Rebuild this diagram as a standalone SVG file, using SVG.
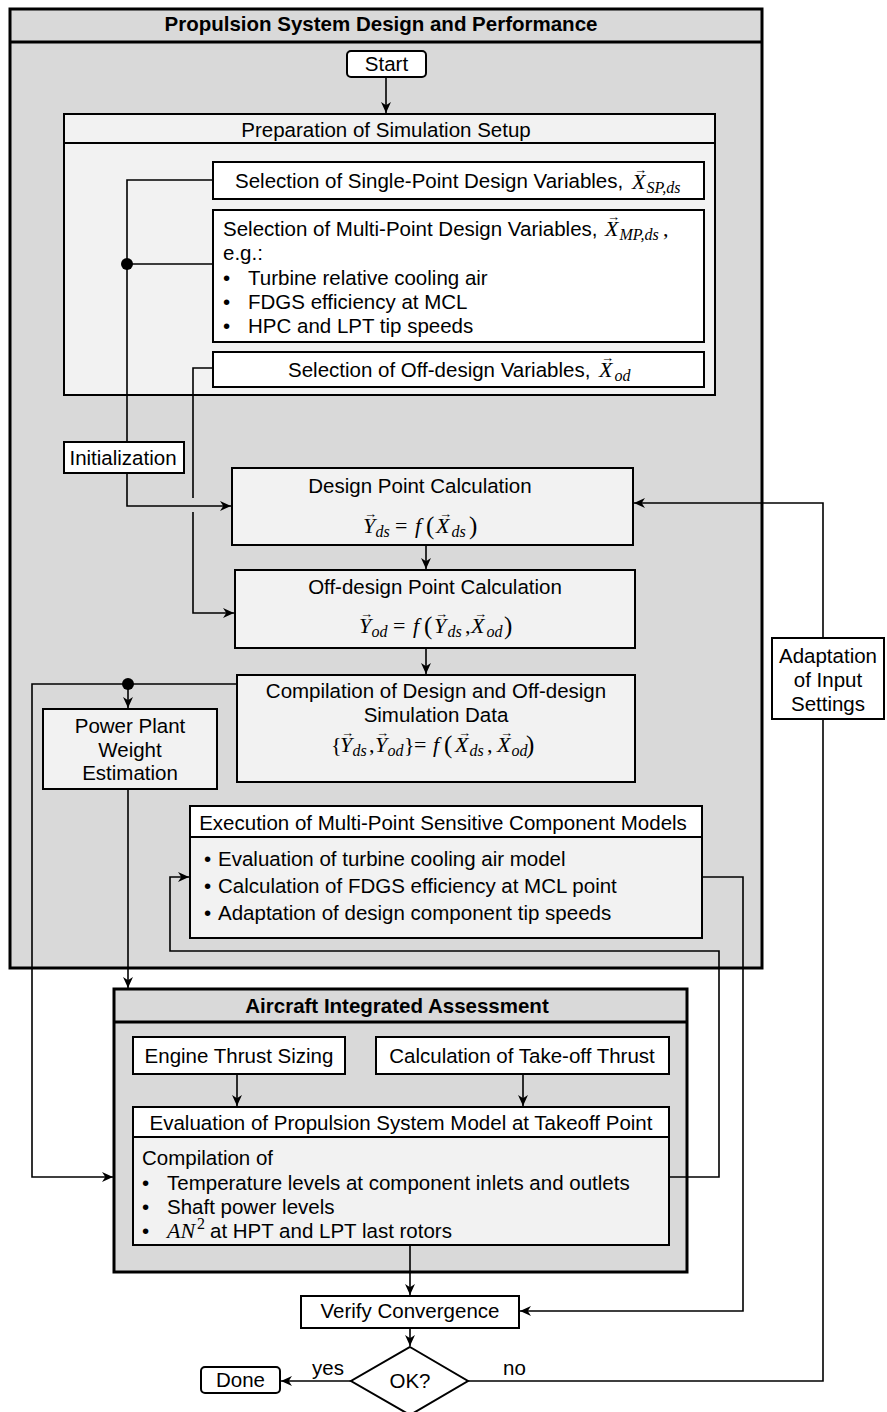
<svg xmlns="http://www.w3.org/2000/svg" width="887" height="1412" viewBox="0 0 887 1412">
  <defs>
    <style>
      .t { font-family: "Liberation Sans", Arial, sans-serif; font-size: 20.5px; fill: #000; }
      .c { text-anchor: middle; }
      .b { font-weight: bold; }
      .m { font-family: "Liberation Serif", "Times New Roman", serif; font-style: italic; font-size: 22px; fill: #000; }
      .s { font-size: 16px; }
      .up { font-style: normal; }
      .p { font-style: normal; font-size: 25px; }
      .v { font-family: "Liberation Serif", "DejaVu Serif", serif; font-style: normal; font-size: 13px; }
      .box { stroke: #000; stroke-width: 2; }
      .frame { stroke: #000; stroke-width: 3; }
      .w { fill: #fff; }
      .g { fill: #f2f2f2; }
      .d { fill: #d9d9d9; }
      .ln { fill: none; stroke: #000; stroke-width: 1.6; }
      .ar { marker-end: url(#ah); }
    </style>
    <marker id="ah" viewBox="0 0 10 10" refX="10" refY="5" markerWidth="11" markerHeight="11" markerUnits="userSpaceOnUse" orient="auto">
      <path d="M0,0.5 L10,5 L0,9.5 L3,5 Z" fill="#000"/>
    </marker>
  </defs>

  <rect width="887" height="1412" fill="#fff"/>

  <!-- Propulsion system container -->
  <g id="propulsion-system">
    <rect class="frame d" x="10" y="9" width="752" height="959"/>
    <line x1="10" y1="42" x2="762" y2="42" stroke="#000" stroke-width="3"/>
    <text class="t c b" x="381" y="31">Propulsion System Design and Performance</text>
  </g>

  <!-- Preparation container -->
  <g id="preparation">
    <rect class="box g" x="64" y="114" width="651" height="281"/>
    <line x1="64" y1="143" x2="715" y2="143" stroke="#000" stroke-width="2"/>
    <text class="t c" x="386" y="137">Preparation of Simulation Setup</text>
  </g>

  <!-- Aircraft assessment container -->
  <g id="aircraft-assessment">
    <rect class="frame d" x="114" y="989" width="573" height="283"/>
    <line x1="114" y1="1022" x2="687" y2="1022" stroke="#000" stroke-width="3"/>
    <text class="t c b" x="397" y="1013">Aircraft Integrated Assessment</text>
  </g>

  <!-- Connectors -->
  <g id="connectors">
    <line class="ln ar" x1="386" y1="77" x2="386" y2="113"/>
    <path class="ln" d="M213,180 H127 V442"/>
    <path class="ln" d="M213,264 H127"/>
    <circle cx="127" cy="264" r="6" fill="#000"/>
    <path class="ln ar" d="M127,473 V506 H231"/>
    <path class="ln" d="M213,368 H193 V498"/>
    <path class="ln ar" d="M193,512 V613 H234"/>
    <line class="ln ar" x1="426" y1="545" x2="426" y2="569"/>
    <line class="ln ar" x1="426" y1="648" x2="426" y2="674"/>
    <path class="ln ar" d="M237,684 H32 V1177 H113"/>
    <circle cx="128" cy="684" r="6" fill="#000"/>
    <line class="ln ar" x1="128" y1="684" x2="128" y2="708"/>
    <line class="ln ar" x1="128" y1="789" x2="128" y2="988"/>
    <path class="ln ar" d="M668,1177 H719 V951 H170 V877 H189"/>
    <path class="ln ar" d="M702,877 H743 V1311 H520"/>
    <path class="ln ar" d="M823,638 V503 H634"/>
    <line class="ln ar" x1="237" y1="1074" x2="237" y2="1106"/>
    <line class="ln ar" x1="523" y1="1074" x2="523" y2="1106"/>
    <line class="ln ar" x1="410" y1="1245" x2="410" y2="1295"/>
    <line class="ln ar" x1="410" y1="1328" x2="410" y2="1346"/>
    <path class="ln ar" d="M351,1381 H281"/>
    <path class="ln" d="M468,1381 H823 V719"/>
    <text class="t" x="312" y="1375">yes</text>
    <text class="t" x="503" y="1375">no</text>
  </g>

  <g id="start">
    <rect class="box w" x="347" y="51" width="79" height="26" rx="4"/>
    <text class="t c" x="386.5" y="71">Start</text>
  </g>

  <g id="single-point-variables">
    <rect class="box w" x="213" y="162" width="491" height="37"/>
    <text class="t" x="235" y="188">Selection of Single-Point Design Variables,</text>
    <text class="m" x="632" y="189">X<tspan class="s" x="646.5" y="193">SP,ds</tspan><tspan class="v" x="634" y="173.5">→</tspan></text>
  </g>

  <g id="multi-point-variables">
    <rect class="box w" x="213" y="210" width="491" height="132"/>
    <text class="t" x="223" y="236">Selection of Multi-Point Design Variables,</text>
    <text class="m" x="605" y="236">X<tspan class="s" x="619.5" y="240">MP,ds</tspan><tspan class="up" x="663" y="236">,</tspan><tspan class="v" x="607" y="220.5">→</tspan></text>
    <text class="t" x="223" y="260">e.g.:</text>
    <text class="t" x="223" y="285">•</text>
    <text class="t" x="248" y="285">Turbine relative cooling air</text>
    <text class="t" x="223" y="309">•</text>
    <text class="t" x="248" y="309">FDGS efficiency at MCL</text>
    <text class="t" x="223" y="333">•</text>
    <text class="t" x="248" y="333">HPC and LPT tip speeds</text>
  </g>

  <g id="off-design-variables">
    <rect class="box w" x="213" y="352" width="491" height="35"/>
    <text class="t" x="288" y="377">Selection of Off-design Variables,</text>
    <text class="m" x="599" y="377">X<tspan class="s" x="614.5" y="381">od</tspan><tspan class="v" x="601" y="361.5">→</tspan></text>
  </g>

  <g id="initialization">
    <rect class="box w" x="64" y="442" width="120" height="31"/>
    <text class="t c" x="123" y="465">Initialization</text>
  </g>

  <g id="design-point">
    <rect class="box g" x="232" y="468" width="401" height="77"/>
    <text class="t c" x="420" y="493">Design Point Calculation</text>
    <text class="m" x="363" y="533">Y<tspan class="s" x="375.5" y="537">ds</tspan><tspan class="up" x="395" y="533">=</tspan><tspan x="415" y="533">f</tspan><tspan class="p" x="426" y="534">(</tspan><tspan x="436" y="533">X</tspan><tspan class="s" x="451.5" y="537">ds</tspan><tspan class="p" x="469" y="534">)</tspan><tspan class="v" x="364" y="517.5">→</tspan><tspan class="v" x="439" y="517.5">→</tspan></text>
  </g>

  <g id="off-design-point">
    <rect class="box g" x="235" y="570" width="400" height="78"/>
    <text class="t c" x="435" y="594">Off-design Point Calculation</text>
    <text class="m" x="359" y="633">Y<tspan class="s" x="371.5" y="637">od</tspan><tspan class="up" x="393" y="633">=</tspan><tspan x="413" y="633">f</tspan><tspan class="p" x="424" y="634">(</tspan><tspan x="434" y="633">Y</tspan><tspan class="s" x="447.5" y="637">ds</tspan><tspan class="up" x="465" y="633">,</tspan><tspan x="471" y="633">X</tspan><tspan class="s" x="486.5" y="637">od</tspan><tspan class="p" x="504" y="634">)</tspan><tspan class="v" x="360" y="617.5">→</tspan><tspan class="v" x="435" y="617.5">→</tspan><tspan class="v" x="474" y="617.5">→</tspan></text>
  </g>

  <g id="compilation">
    <rect class="box g" x="237" y="675" width="398" height="107"/>
    <text class="t c" x="436" y="698">Compilation of Design and Off-design</text>
    <text class="t c" x="436" y="722">Simulation Data</text>
    <text class="m" x="331" y="752"><tspan class="up">{</tspan><tspan x="340" y="752">Y</tspan><tspan class="s" x="352.5" y="756">ds</tspan><tspan class="up" x="369" y="752">,</tspan><tspan x="375" y="752">Y</tspan><tspan class="s" x="387.5" y="756">od</tspan><tspan class="up" x="404" y="752">}</tspan><tspan class="up" x="414" y="752">=</tspan><tspan x="433" y="752">f</tspan><tspan class="p" x="444" y="753">(</tspan><tspan x="455" y="752">X</tspan><tspan class="s" x="469.5" y="756">ds</tspan><tspan class="up" x="487" y="752">,</tspan><tspan x="497" y="752">X</tspan><tspan class="s" x="511.5" y="756">od</tspan><tspan class="p" x="526" y="753">)</tspan><tspan class="v" x="341" y="736.5">→</tspan><tspan class="v" x="376" y="736.5">→</tspan><tspan class="v" x="458" y="736.5">→</tspan><tspan class="v" x="500" y="736.5">→</tspan></text>
  </g>

  <g id="weight-estimation">
    <rect class="box g" x="43" y="709" width="174" height="80"/>
    <text class="t c" x="130" y="733">Power Plant</text>
    <text class="t c" x="130" y="757">Weight</text>
    <text class="t c" x="130" y="780">Estimation</text>
  </g>

  <g id="component-models">
    <rect class="box g" x="190" y="806" width="512" height="132"/>
    <rect class="box w" x="190" y="806" width="512" height="31"/>
    <text class="t c" x="443" y="830">Execution of Multi-Point Sensitive Component Models</text>
    <text class="t" x="204" y="866">•</text>
    <text class="t" x="218" y="866">Evaluation of turbine cooling air model</text>
    <text class="t" x="204" y="893">•</text>
    <text class="t" x="218" y="893">Calculation of FDGS efficiency at MCL point</text>
    <text class="t" x="204" y="920">•</text>
    <text class="t" x="218" y="920">Adaptation of design component tip speeds</text>
  </g>

  <g id="input-adaptation">
    <rect class="box w" x="772" y="638" width="112" height="81"/>
    <text class="t c" x="828" y="663">Adaptation</text>
    <text class="t c" x="828" y="687">of Input</text>
    <text class="t c" x="828" y="711">Settings</text>
  </g>

  <g id="thrust-sizing">
    <rect class="box w" x="133" y="1037" width="212" height="37"/>
    <text class="t c" x="239" y="1063">Engine Thrust Sizing</text>
  </g>

  <g id="takeoff-thrust">
    <rect class="box w" x="376" y="1037" width="293" height="37"/>
    <text class="t c" x="522" y="1063">Calculation of Take-off Thrust</text>
  </g>

  <g id="takeoff-evaluation">
    <rect class="box g" x="133" y="1107" width="536" height="138"/>
    <rect class="box w" x="133" y="1107" width="536" height="30"/>
    <text class="t c" x="401" y="1130">Evaluation of Propulsion System Model at Takeoff Point</text>
    <text class="t" x="142" y="1165">Compilation of</text>
    <text class="t" x="142" y="1190">•</text>
    <text class="t" x="167" y="1190">Temperature levels at component inlets and outlets</text>
    <text class="t" x="142" y="1214">•</text>
    <text class="t" x="167" y="1214">Shaft power levels</text>
    <text class="t" x="142" y="1238">•</text>
    <text class="m" x="167" y="1238">AN<tspan class="s up" x="197" y="1229">2</tspan></text>
    <text class="t" x="210" y="1238">at HPT and LPT last rotors</text>
  </g>

  <g id="verify-convergence">
    <rect class="box w" x="301" y="1296" width="218" height="32"/>
    <text class="t c" x="410" y="1318">Verify Convergence</text>
  </g>

  <g id="ok-decision">
    <polygon class="box w" points="410,1347 468,1381 410,1415 351,1381"/>
    <text class="t c" x="410" y="1388">OK?</text>
  </g>

  <g id="done">
    <rect class="box w" x="201" y="1367" width="79" height="26" rx="4"/>
    <text class="t c" x="240.5" y="1387">Done</text>
  </g>
</svg>
